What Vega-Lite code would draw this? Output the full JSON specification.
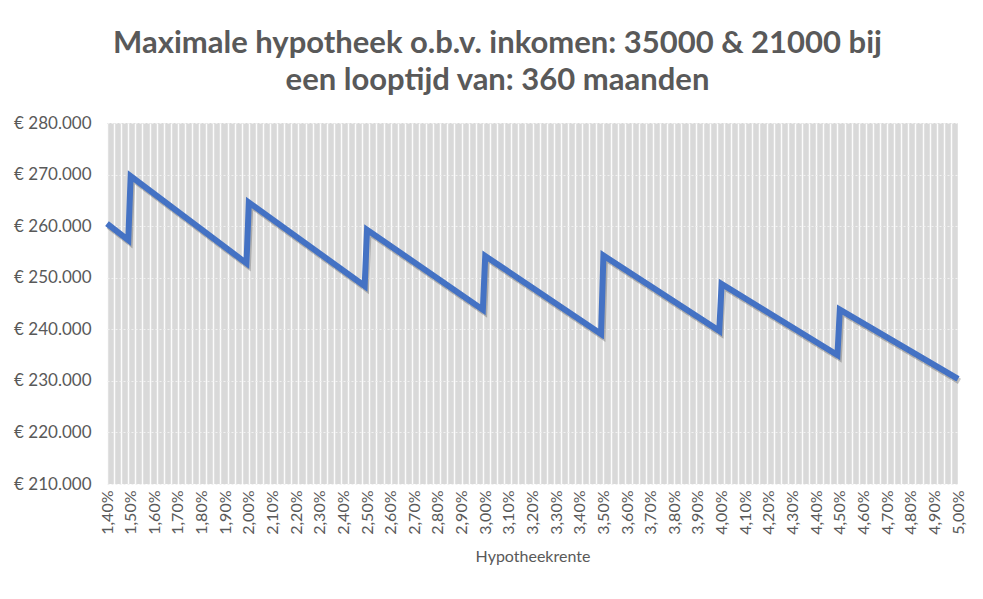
{
  "$schema": "https://vega.github.io/schema/vega-lite/v6.json",
  "width": 851,
  "height": 361,
  "autosize": {"type": "none"},
  "padding": {"left": 107, "top": 123, "right": 25, "bottom": 115},
  "background": "white",
  "config": {
    "view": {"fill": "#d9d9d9", "stroke": null},
    "font": "Lato"
  },
  "title": {
    "text": ["Maximale hypotheek o.b.v. inkomen: 35000 & 21000 bij", "een looptijd van: 360 maanden"],
    "font": "Lato",
    "fontSize": 31,
    "fontWeight": "bold",
    "color": "#595959",
    "anchor": "middle",
    "lineHeight": 37,
    "dx": -35,
    "offset": 17
  },
  "data": {
    "values": [
      {"rente": 1.40, "hypotheek": 260500},
      {"rente": 1.49, "hypotheek": 257300},
      {"rente": 1.50, "hypotheek": 269700},
      {"rente": 1.99, "hypotheek": 252800},
      {"rente": 2.00, "hypotheek": 264600},
      {"rente": 2.49, "hypotheek": 248400},
      {"rente": 2.50, "hypotheek": 259300},
      {"rente": 2.99, "hypotheek": 243800},
      {"rente": 3.00, "hypotheek": 254200},
      {"rente": 3.49, "hypotheek": 239100},
      {"rente": 3.50, "hypotheek": 254300},
      {"rente": 3.99, "hypotheek": 239700},
      {"rente": 4.00, "hypotheek": 248800},
      {"rente": 4.49, "hypotheek": 235000},
      {"rente": 4.50, "hypotheek": 243800},
      {"rente": 5.00, "hypotheek": 230400}
    ]
  },
  "layer": [
    {
      "mark": {"type": "line", "color": "#000000", "opacity": 0.22, "strokeWidth": 6, "xOffset": 1.5, "yOffset": 2.5, "strokeJoin": "miter"},
      "encoding": {
        "x": {
          "field": "rente", "type": "quantitative",
          "scale": {"domain": [1.4, 5.0], "nice": false, "zero": false},
          "axis": {
            "orient": "bottom",
            "values": [1.40,1.43,1.46,1.49,1.52,1.55,1.58,1.61,1.64,1.67,1.70,1.73,1.76,1.79,1.82,1.85,1.88,1.91,1.94,1.97,2.00,2.03,2.06,2.09,2.12,2.15,2.18,2.21,2.24,2.27,2.30,2.33,2.36,2.39,2.42,2.45,2.48,2.51,2.54,2.57,2.60,2.63,2.66,2.69,2.72,2.75,2.78,2.81,2.84,2.87,2.90,2.93,2.96,2.99,3.02,3.05,3.08,3.11,3.14,3.17,3.20,3.23,3.26,3.29,3.32,3.35,3.38,3.41,3.44,3.47,3.50,3.53,3.56,3.59,3.62,3.65,3.68,3.71,3.74,3.77,3.80,3.83,3.86,3.89,3.92,3.95,3.98,4.01,4.04,4.07,4.10,4.13,4.16,4.19,4.22,4.25,4.28,4.31,4.34,4.37,4.40,4.43,4.46,4.49,4.52,4.55,4.58,4.61,4.64,4.67,4.70,4.73,4.76,4.79,4.82,4.85,4.88,4.91,4.94,4.97,5.00],
            "grid": true, "gridColor": "#ffffff", "gridWidth": 1.5, "gridOpacity": 0.9,
            "labels": false, "ticks": false, "domain": false, "title": null
          }
        },
        "y": {
          "field": "hypotheek", "type": "quantitative",
          "scale": {"domain": [210000, 280000], "nice": false, "zero": false},
          "axis": {
            "orient": "left",
            "values": [210000, 220000, 230000, 240000, 250000, 260000, 270000, 280000],
            "grid": true, "gridColor": "#f0f0f0", "gridWidth": 1, "gridDash": [2, 2],
            "labels": false, "ticks": false, "domain": false, "title": null
          }
        }
      }
    },
    {
      "mark": {"type": "line", "color": "#4472c4", "strokeWidth": 6, "strokeJoin": "miter"},
      "encoding": {
        "x": {
          "field": "rente", "type": "quantitative",
          "axis": {
            "orient": "bottom",
            "values": [1.4,1.5,1.6,1.7,1.8,1.9,2.0,2.1,2.2,2.3,2.4,2.5,2.6,2.7,2.8,2.9,3.0,3.1,3.2,3.3,3.4,3.5,3.6,3.7,3.8,3.9,4.0,4.1,4.2,4.3,4.4,4.5,4.6,4.7,4.8,4.9,5.0],
            "labelExpr": "replace(format(datum.value, '.2f'), '.', ',') + '%'",
            "labelAngle": -90,
            "labelFontSize": 16,
            "labelColor": "#595959",
            "labelPadding": 6,
            "grid": false, "ticks": false, "domain": false,
            "title": "Hypotheekrente",
            "titleFontSize": 16,
            "titleFontWeight": "normal",
            "titleColor": "#595959",
            "titlePadding": 14
          }
        },
        "y": {
          "field": "hypotheek", "type": "quantitative",
          "axis": {
            "orient": "left",
            "values": [210000, 220000, 230000, 240000, 250000, 260000, 270000, 280000],
            "labelExpr": "'€ ' + replace(format(datum.value, ',.0f'), ',', '.')",
            "labelFontSize": 17,
            "labelColor": "#595959",
            "labelPadding": 16,
            "grid": false, "ticks": false, "domain": false,
            "title": null
          }
        }
      }
    }
  ],
  "resolve": {"axis": {"x": "independent", "y": "independent"}}
}
